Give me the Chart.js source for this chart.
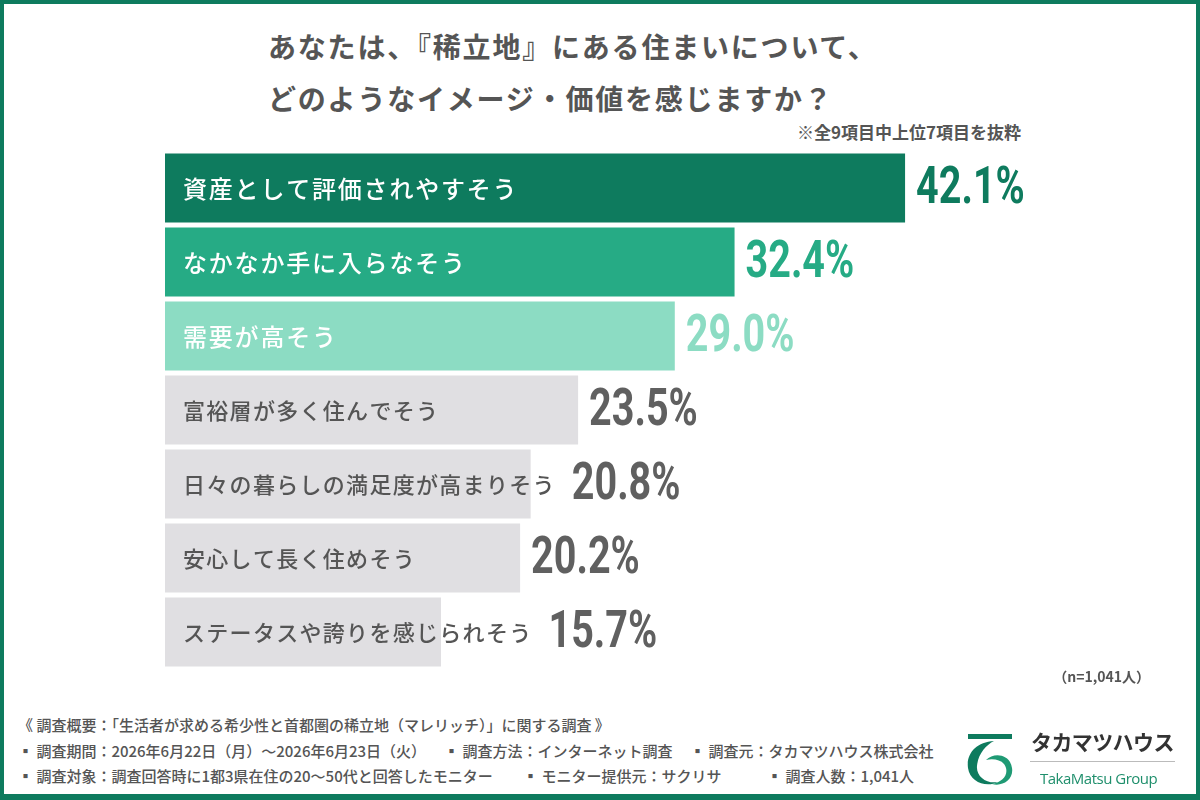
<!DOCTYPE html>
<html lang="ja">
<head>
<meta charset="utf-8">
<script src="https://cdn.jsdelivr.net/npm/chart.js@4.4.1/dist/chart.umd.min.js"></script>
<style>
  html, body { margin: 0; padding: 0; background: #fff; }
  body { width: 1200px; height: 800px; position: relative; overflow: hidden;
         font-family: 'Noto Sans CJK JP', 'Noto Sans', sans-serif; color: #555; }
  .frame { position: absolute; left: 0; top: 0; width: 1200px; height: 800px; box-sizing: border-box;
           border: 4px solid #0e7b5e; border-bottom-width: 6px; pointer-events: none; }
  .title { position: absolute; left: 268px; top: 20px; font-size: 28px; font-weight: 700;
           line-height: 52px; letter-spacing: 1.8px; color: #555; }
  .note { position: absolute; right: 179px; top: 119px; font-size: 17px; font-weight: 700; color: #555; }
  .n { position: absolute; right: 50px; top: 666px; font-size: 14px; font-weight: 700; color: #555; }
  .chartbox { position: absolute; left: 0; top: 140px; width: 1200px; height: 540px; }
  .foot { position: absolute; left: 18px; font-size: 15px; font-weight: 500; color: #555; white-space: nowrap; }
  .foot span { position: absolute; top: 0; }
  .logo-txt { position: absolute; left: 1031px; top: 726px; font-size: 21px; font-weight: 700;
              color: #333; letter-spacing: -0.6px; }
  .logo-line { position: absolute; left: 1030px; top: 761px; width: 145px; height: 1px; background: #bbb; }
  .logo-en { position: absolute; left: 1040px; top: 768px; font-family: 'Open Sans', sans-serif;
             font-size: 15px; color: #1f8f6c; letter-spacing: -0.5px; }
  .mark { position: absolute; left: 964px; top: 732px; }
</style>
</head>
<body>
<div class="title">あなたは、『稀立地』にある住まいについて、<br>どのようなイメージ・価値を感じますか？</div>
<div class="note">※全9項目中上位7項目を抜粋</div>
<div class="chartbox"><canvas id="bar-chart"></canvas></div>
<div class="n">（n=1,041人）</div>

<div class="foot" style="top:714px">《 調査概要：「生活者が求める希少性と首都圏の稀立地（マレリッチ）」に関する調査 》</div>
<div class="foot" style="top:740px;width:1000px;height:22px">
  <span style="left:0">▪ 調査期間：2026年6月22日（月）～2026年6月23日（火）</span>
  <span style="left:426px">▪ 調査方法：インターネット調査</span>
  <span style="left:672px">▪ 調査元：タカマツハウス株式会社</span>
</div>
<div class="foot" style="top:765px;width:1000px;height:22px">
  <span style="left:0">▪ 調査対象：調査回答時に1都3県在住の20～50代と回答したモニター</span>
  <span style="left:505px">▪ モニター提供元：サクリサ</span>
  <span style="left:749px">▪ 調査人数：1,041人</span>
</div>

<svg class="mark" width="52" height="56" viewBox="0 0 52 56">
  <rect x="4" y="2" width="44" height="5" fill="#0e7b5e"/>
  <path d="M30 9 C12 10 2 22 4 36 C6 50 22 56 34 50 C22 52 12 44 13 34 C14 22 22 13 30 9 Z" fill="#0e7b5e"/>
  <path d="M22 28 C30 20 46 22 48 36 C50 48 38 55 28 52 C38 50 44 44 42 36 C40 28 30 26 22 28 Z" fill="#1f9a74"/>
</svg>
<div class="logo-txt">タカマツハウス</div>
<div class="logo-line"></div>
<div class="logo-en">TakaMatsu Group</div>
<div class="frame"></div>

<script>
// 回答項目（上位7項目）
const categories = [
    '資産として評価されやすそう',
    'なかなか手に入らなそう',
    '需要が高そう',
    '富裕層が多く住んでそう',
    '日々の暮らしの満足度が高まりそう',
    '安心して長く住めそう',
    'ステータスや誇りを感じられそう'
];
// 割合 (%)
const values = [42.1, 32.4, 29.0, 23.5, 20.8, 20.2, 15.7];

// --- 配色 ---
const barColors   = ['#0e7b5e', '#26ab85', '#8cdcc3', '#e0dfe2', '#e0dfe2', '#e0dfe2', '#e0dfe2'];
const labelColors = ['#ffffff', '#ffffff', '#ffffff', '#555555', '#555555', '#555555', '#555555'];
const valueColors = ['#0e7b5e', '#26ab85', '#8cdcc3', '#606060', '#606060', '#606060', '#606060'];

// バー内の項目名 + バー右の数値（数値は横に詰めて描く）
const barLabels = {
    id: 'barLabels',
    afterDatasetsDraw(chart) {
        const ctx = chart.ctx;
        const meta = chart.getDatasetMeta(0);
        meta.data.forEach((bar, i) => {
            const top3 = i < 3;
            ctx.save();
            ctx.textBaseline = 'middle';
            ctx.textAlign = 'left';
            ctx.font = (top3 ? '500 24px' : '500 22px') + " 'Noto Sans CJK JP', sans-serif";
            ctx.letterSpacing = top3 ? '1.8px' : '1.3px';
            ctx.fillStyle = labelColors[i];
            const lx = bar.base + 18;
            ctx.fillText(categories[i], lx, bar.y + 1);
            const labelEnd = lx + ctx.measureText(categories[i]).width;

            ctx.letterSpacing = '0px';
            ctx.font = "bold 52px Roboto, sans-serif";
            ctx.fillStyle = valueColors[i];
            const vx = Math.max(bar.x + 11, labelEnd + 16);
            ctx.translate(vx, bar.y + 2);
            ctx.scale(0.76, 1);
            ctx.fillText(values[i].toFixed(1) + '%', 0, 0);
            ctx.restore();
        });
    }
};

const chart = new Chart(document.getElementById('bar-chart'), {
    type: 'bar',
    data: {
        labels: categories,
        datasets: [{
            data: values,
            backgroundColor: barColors,
            borderWidth: 0,
            barPercentage: 0.93,
            categoryPercentage: 1.0,
        }]
    },
    options: {
        indexAxis: 'y',
        responsive: true,
        maintainAspectRatio: false,
        animation: false,
        layout: { padding: { left: 165, right: 33, top: 11, bottom: 11 } },
        plugins: { legend: { display: false }, tooltip: { enabled: false } },
        scales: {
            x: { display: false, min: 0, max: 57 },
            y: { display: false }
        }
    },
    plugins: [barLabels]
});
</script>
</body>
</html>
